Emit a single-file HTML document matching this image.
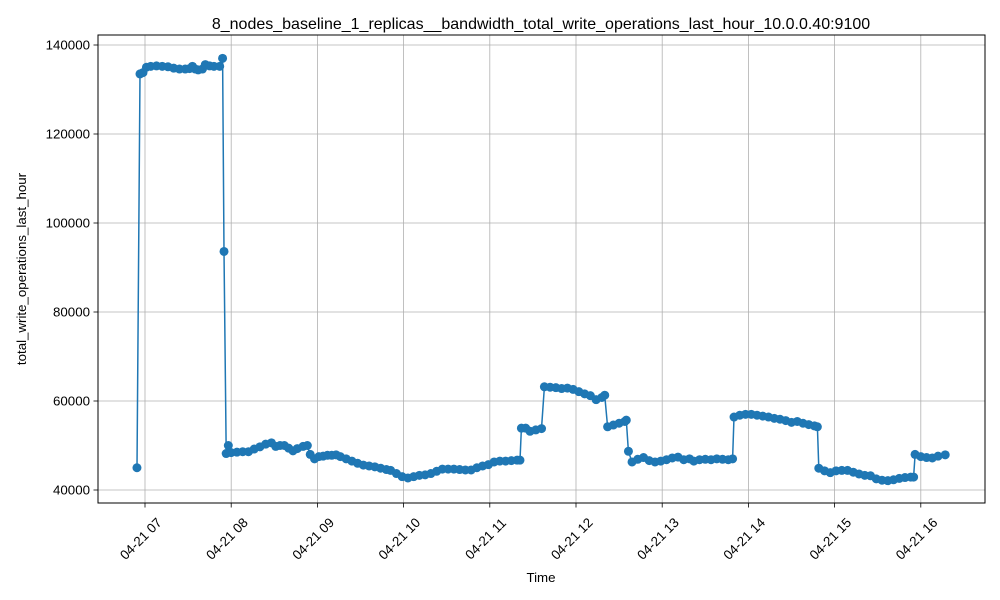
<!DOCTYPE html>
<html><head><meta charset="utf-8"><style>
html,body{margin:0;padding:0;background:#fff;}
svg{display:block;font-family:"Liberation Sans","DejaVu Sans",sans-serif;}
</style></head><body>
<svg id="chart" width="1000" height="600" viewBox="0 0 1000 600">
<rect width="1000" height="600" fill="#fff"/>
<g id="grid"></g>
<rect x="98" y="35" width="887" height="468" fill="none" stroke="#000" stroke-width="1"/>
<g id="series"></g>
<g id="axes"></g>
<text x="541" y="29" font-size="16" text-anchor="middle">8_nodes_baseline_1_replicas__bandwidth_total_write_operations_last_hour_10.0.0.40:9100</text>
<text x="541" y="582" font-size="13.3" text-anchor="middle">Time</text>
<text x="0" y="0" font-size="13.3" text-anchor="middle" transform="translate(26,269) rotate(-90)">total_write_operations_last_hour</text>
</svg>
<script>
// minutes since 04-21 07:00
const minutes = [-5.6,-3.5,-1.4,1,4,8,12,16,20,24,28,31,33,35,37,40,42,45,48,52,54,55,56.5,58,60,64,68,72,76,80,84,88,91,94,97,100,103,106,110,113,115,118,121,124,127,130,133,136,140,144,148,152,156,160,164,168,171,175,179,183,187,191,195,199,203,207,211,215,219,223,227,231,235,239,243,247,251,255,259,261,262,265,268,272,276,278,282,286,290,294,298,302,306,310,314,318,320,322,326,330,334,335,336.5,339,343,347,351,355,359,363,367,371,375,379,382,386,390,394,398,402,406,409,410,414,418,422,426,430,434,438,442,446,450,454,458,462,466,468,469,473,477,481,485,489,493,497,501,505,509,513,517,521,525,529,533,535,536,540,544,548,552,557];
const values = [45000,133500,133800,135000,135200,135300,135200,135100,134800,134600,134600,134700,135200,134600,134400,134600,135600,135300,135200,135200,137000,93600,48200,50000,48400,48500,48600,48600,49200,49700,50300,50600,49800,50000,50000,49400,48800,49300,49800,50000,48000,47000,47500,47600,47800,47800,47900,47500,47000,46500,46000,45600,45400,45200,44900,44600,44400,43700,43000,42700,43000,43300,43400,43700,44200,44700,44700,44700,44600,44500,44500,45000,45400,45700,46300,46500,46500,46600,46700,46700,53900,53900,53200,53500,53800,63200,63100,63000,62800,62900,62600,62100,61600,61200,60300,60800,61300,54200,54600,55000,55400,55700,48700,46300,46900,47300,46600,46300,46500,46800,47200,47400,46800,47000,46500,46800,46900,46800,47000,46900,46800,47000,56400,56800,57000,57000,56800,56600,56400,56100,55900,55600,55200,55400,55000,54700,54400,54200,44900,44300,43900,44300,44400,44400,44000,43600,43300,43200,42500,42200,42100,42300,42600,42800,42900,42900,48000,47500,47300,47200,47600,47900];
const yTicks = [40000,60000,80000,100000,120000,140000];
const xTickMinutes = [0,60,120,180,240,300,360,420,480,540];
const xTickLabels = ["04-21 07","04-21 08","04-21 09","04-21 10","04-21 11","04-21 12","04-21 13","04-21 14","04-21 15","04-21 16"];

const NS = "http://www.w3.org/2000/svg";
function xs(m){ return 145 + m/60*86.2; }
function ys(v){ return 490 - (v-40000)*445/100000; }
function mk(tag, attrs, parent){ const e=document.createElementNS(NS,tag); for(const k in attrs) e.setAttribute(k,attrs[k]); parent.appendChild(e); return e; }

const grid=document.getElementById('grid'), axes=document.getElementById('axes'), series=document.getElementById('series');
yTicks.forEach((v,i)=>{
  const y=ys(v);
  const g=mk('line',{x1:98,x2:985,y1:y,y2:y,stroke:'#b0b0b0','stroke-width':0.8},grid);
  
  
  const t=mk('line',{x1:93.5,x2:98,y1:y,y2:y,stroke:'#000','stroke-width':0.8},axes);
  
  
  const l=mk('text',{x:90,y:y+4.5,'font-size':13.3,'text-anchor':'end'},axes);
  l.textContent=String(v);
  
  
});
xTickMinutes.forEach((m,i)=>{
  const x=xs(m);
  const g=mk('line',{x1:x,x2:x,y1:35,y2:503,stroke:'#b0b0b0','stroke-width':0.8},grid);
  
  
  const t=mk('line',{x1:x,x2:x,y1:503,y2:507.5,stroke:'#000','stroke-width':0.8},axes);
  
  
  const l=mk('text',{x:0,y:0,'font-size':13.3,'text-anchor':'middle',transform:`translate(${x-1},${542}) rotate(-45)`},axes);
  l.textContent=xTickLabels[i];
  
  
});
const pts=minutes.map((m,i)=>xs(m).toFixed(1)+','+ys(values[i]).toFixed(1)).join(' ');
const pl=mk('polyline',{points:pts,fill:'none',stroke:'#1f77b4','stroke-width':1.5,'stroke-linejoin':'round'},series);


minutes.forEach((m,i)=>{
  const c=mk('circle',{cx:xs(m),cy:ys(values[i]),r:4.5,fill:'#1f77b4'},series);
  
  
});
</script>
</body></html>
